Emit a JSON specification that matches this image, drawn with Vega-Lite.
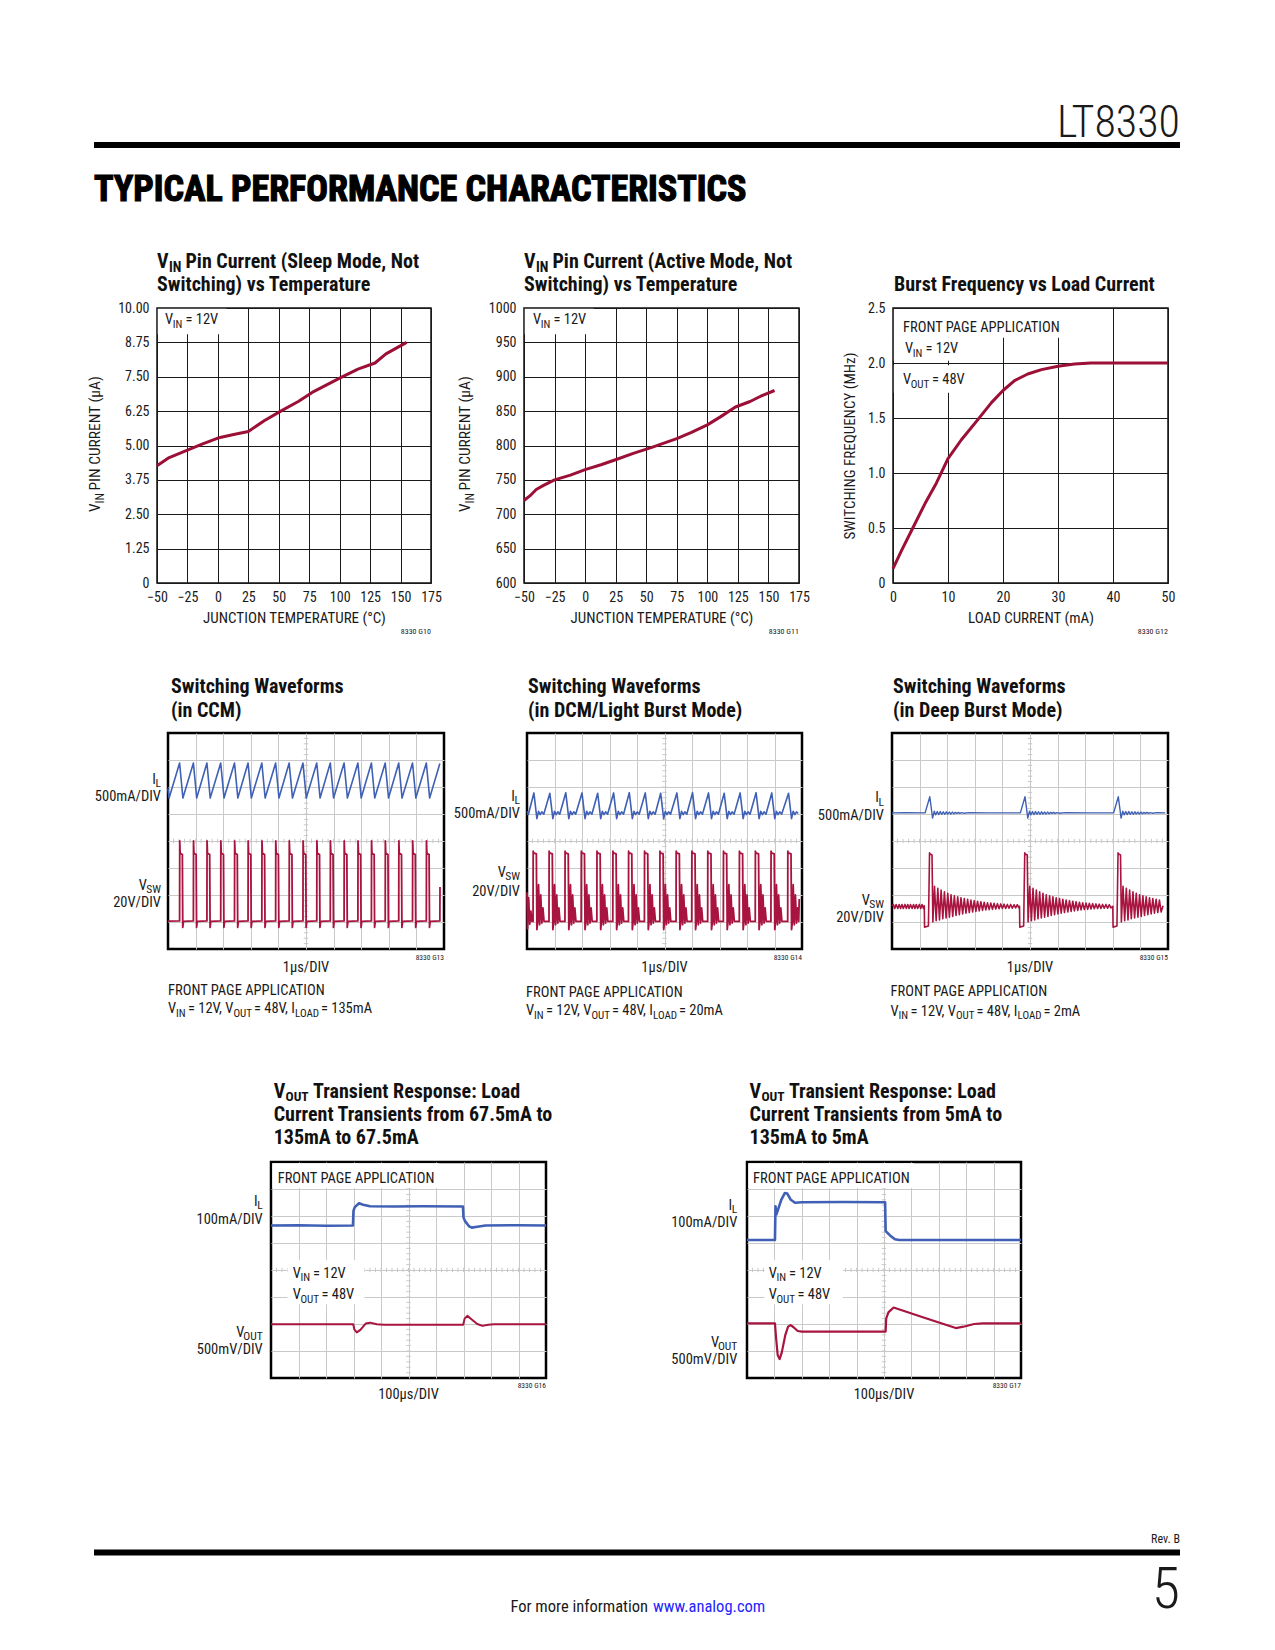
{
"$schema": "https://vega.github.io/schema/vega-lite/v6.json",
"background": "white",
"padding": 0,
"spacing": 0,
"datasets": {
"one": [{}],
"c1": [{"t":-50,"i":4.26},{"t":-40,"i":4.56},{"t":-25,"i":4.83},{"t":-13,"i":5.05},{"t":0,"i":5.27},{"t":12,"i":5.39},{"t":25,"i":5.51},{"t":38,"i":5.9},{"t":52,"i":6.26},{"t":66,"i":6.6},{"t":79,"i":6.97},{"t":100,"i":7.45},{"t":115,"i":7.78},{"t":129,"i":8.0},{"t":138,"i":8.33},{"t":155,"i":8.75}],
"c2": [{"t":-50,"i":720},{"t":-45,"i":727},{"t":-40,"i":736},{"t":-34,"i":742},{"t":-25,"i":750},{"t":-12,"i":757},{"t":0,"i":765},{"t":13,"i":772},{"t":26,"i":780},{"t":40,"i":789},{"t":54,"i":797},{"t":75,"i":810},{"t":87,"i":819},{"t":100,"i":830},{"t":111,"i":842},{"t":123,"i":856},{"t":135,"i":864},{"t":144,"i":872},{"t":155,"i":880}],
"c3": [{"l":0,"f":0.13},{"l":1.5,"f":0.29},{"l":3.6,"f":0.5},{"l":5.8,"f":0.72},{"l":7.9,"f":0.91},{"l":10,"f":1.13},{"l":12.4,"f":1.3},{"l":15.5,"f":1.49},{"l":17.9,"f":1.64},{"l":20,"f":1.75},{"l":22.1,"f":1.84},{"l":24.5,"f":1.9},{"l":27,"f":1.94},{"l":30,"f":1.97},{"l":33,"f":1.99},{"l":36,"f":2.0},{"l":50,"f":2.0}],
"tx": [{"v":0.2},{"v":0.4},{"v":0.6},{"v":0.8},{"v":1},{"v":1.2},{"v":1.4},{"v":1.6},{"v":1.8},{"v":2},{"v":2.2},{"v":2.4},{"v":2.6},{"v":2.8},{"v":3},{"v":3.2},{"v":3.4},{"v":3.6},{"v":3.8},{"v":4},{"v":4.2},{"v":4.4},{"v":4.6},{"v":4.8},{"v":5},{"v":5.2},{"v":5.4},{"v":5.6},{"v":5.8},{"v":6},{"v":6.2},{"v":6.4},{"v":6.6},{"v":6.8},{"v":7},{"v":7.2},{"v":7.4},{"v":7.6},{"v":7.8},{"v":8},{"v":8.2},{"v":8.4},{"v":8.6},{"v":8.8},{"v":9},{"v":9.2},{"v":9.4},{"v":9.6},{"v":9.8}],
"ty": [{"v":0.2},{"v":0.4},{"v":0.6},{"v":0.8},{"v":1},{"v":1.2},{"v":1.4},{"v":1.6},{"v":1.8},{"v":2},{"v":2.2},{"v":2.4},{"v":2.6},{"v":2.8},{"v":3},{"v":3.2},{"v":3.4},{"v":3.6},{"v":3.8},{"v":4},{"v":4.2},{"v":4.4},{"v":4.6},{"v":4.8},{"v":5},{"v":5.2},{"v":5.4},{"v":5.6},{"v":5.8},{"v":6},{"v":6.2},{"v":6.4},{"v":6.6},{"v":6.8},{"v":7},{"v":7.2},{"v":7.4},{"v":7.6},{"v":7.8}],
"w1i": [{"x":0,"y":5.95},{"x":0.04,"y":5.59},{"x":0.42,"y":6.89},{"x":0.54,"y":5.59},{"x":0.92,"y":6.89},{"x":1.04,"y":5.59},{"x":1.41,"y":6.89},{"x":1.53,"y":5.59},{"x":1.91,"y":6.89},{"x":2.03,"y":5.59},{"x":2.41,"y":6.89},{"x":2.53,"y":5.59},{"x":2.9,"y":6.89},{"x":3.02,"y":5.59},{"x":3.4,"y":6.89},{"x":3.52,"y":5.59},{"x":3.9,"y":6.89},{"x":4.02,"y":5.59},{"x":4.39,"y":6.89},{"x":4.51,"y":5.59},{"x":4.89,"y":6.89},{"x":5.01,"y":5.59},{"x":5.39,"y":6.89},{"x":5.51,"y":5.59},{"x":5.88,"y":6.89},{"x":6.0,"y":5.59},{"x":6.38,"y":6.89},{"x":6.5,"y":5.59},{"x":6.88,"y":6.89},{"x":7.0,"y":5.59},{"x":7.37,"y":6.89},{"x":7.49,"y":5.59},{"x":7.87,"y":6.89},{"x":7.99,"y":5.59},{"x":8.36,"y":6.89},{"x":8.48,"y":5.59},{"x":8.86,"y":6.89},{"x":8.98,"y":5.59},{"x":9.36,"y":6.89},{"x":9.48,"y":5.59},{"x":9.85,"y":6.87}],
"w1v": [{"x":0,"y":1.03},
{"x":0.42,"y":1.04},{"x":0.425,"y":4.0},{"x":0.44,"y":3.55},{"x":0.52,"y":3.5},{"x":0.535,"y":0.8},{"x":0.56,"y":1.02},
{"x":0.92,"y":1.04},{"x":0.925,"y":4.0},{"x":0.94,"y":3.55},{"x":1.02,"y":3.5},{"x":1.035,"y":0.8},{"x":1.06,"y":1.02},
{"x":1.41,"y":1.04},{"x":1.415,"y":4.0},{"x":1.43,"y":3.55},{"x":1.51,"y":3.5},{"x":1.525,"y":0.8},{"x":1.55,"y":1.02},
{"x":1.91,"y":1.04},{"x":1.915,"y":4.0},{"x":1.93,"y":3.55},{"x":2.01,"y":3.5},{"x":2.025,"y":0.8},{"x":2.05,"y":1.02},
{"x":2.41,"y":1.04},{"x":2.415,"y":4.0},{"x":2.43,"y":3.55},{"x":2.51,"y":3.5},{"x":2.525,"y":0.8},{"x":2.55,"y":1.02},
{"x":2.9,"y":1.04},{"x":2.905,"y":4.0},{"x":2.92,"y":3.55},{"x":3.0,"y":3.5},{"x":3.015,"y":0.8},{"x":3.04,"y":1.02},
{"x":3.4,"y":1.04},{"x":3.405,"y":4.0},{"x":3.42,"y":3.55},{"x":3.5,"y":3.5},{"x":3.515,"y":0.8},{"x":3.54,"y":1.02},
{"x":3.9,"y":1.04},{"x":3.905,"y":4.0},{"x":3.92,"y":3.55},{"x":4.0,"y":3.5},{"x":4.015,"y":0.8},{"x":4.04,"y":1.02},
{"x":4.39,"y":1.04},{"x":4.395,"y":4.0},{"x":4.41,"y":3.55},{"x":4.49,"y":3.5},{"x":4.505,"y":0.8},{"x":4.53,"y":1.02},
{"x":4.89,"y":1.04},{"x":4.895,"y":4.0},{"x":4.91,"y":3.55},{"x":4.99,"y":3.5},{"x":5.005,"y":0.8},{"x":5.03,"y":1.02},
{"x":5.39,"y":1.04},{"x":5.395,"y":4.0},{"x":5.41,"y":3.55},{"x":5.49,"y":3.5},{"x":5.505,"y":0.8},{"x":5.53,"y":1.02},
{"x":5.88,"y":1.04},{"x":5.885,"y":4.0},{"x":5.9,"y":3.55},{"x":5.98,"y":3.5},{"x":5.995,"y":0.8},{"x":6.02,"y":1.02},
{"x":6.38,"y":1.04},{"x":6.385,"y":4.0},{"x":6.4,"y":3.55},{"x":6.48,"y":3.5},{"x":6.495,"y":0.8},{"x":6.52,"y":1.02},
{"x":6.88,"y":1.04},{"x":6.885,"y":4.0},{"x":6.9,"y":3.55},{"x":6.98,"y":3.5},{"x":6.995,"y":0.8},{"x":7.02,"y":1.02},
{"x":7.37,"y":1.04},{"x":7.375,"y":4.0},{"x":7.39,"y":3.55},{"x":7.47,"y":3.5},{"x":7.485,"y":0.8},{"x":7.51,"y":1.02},
{"x":7.87,"y":1.04},{"x":7.875,"y":4.0},{"x":7.89,"y":3.55},{"x":7.97,"y":3.5},{"x":7.985,"y":0.8},{"x":8.01,"y":1.02},
{"x":8.36,"y":1.04},{"x":8.365,"y":4.0},{"x":8.38,"y":3.55},{"x":8.46,"y":3.5},{"x":8.475,"y":0.8},{"x":8.5,"y":1.02},
{"x":8.86,"y":1.04},{"x":8.865,"y":4.0},{"x":8.88,"y":3.55},{"x":8.96,"y":3.5},{"x":8.975,"y":0.8},{"x":9.0,"y":1.02},
{"x":9.36,"y":1.04},{"x":9.365,"y":4.0},{"x":9.38,"y":3.55},{"x":9.46,"y":3.5},{"x":9.475,"y":0.8},{"x":9.5,"y":1.02},
{"x":9.85,"y":1.04},{"x":9.855,"y":2.3}],
"w2i": [{"x":0,"y":5.1},{"x":0.05,"y":4.98},
{"x":0.25,"y":5.78},{"x":0.36,"y":4.83},{"x":0.42,"y":5.1},{"x":0.48,"y":4.98},{"x":0.54,"y":5.08},{"x":0.61,"y":4.99},
{"x":0.83,"y":5.77},{"x":0.94,"y":4.83},{"x":1.0,"y":5.1},{"x":1.06,"y":4.98},{"x":1.12,"y":5.08},{"x":1.19,"y":4.99},
{"x":1.41,"y":5.79},{"x":1.52,"y":4.83},{"x":1.58,"y":5.1},{"x":1.64,"y":4.98},{"x":1.7,"y":5.08},{"x":1.77,"y":4.99},
{"x":2.0,"y":5.78},{"x":2.11,"y":4.83},{"x":2.17,"y":5.1},{"x":2.23,"y":4.98},{"x":2.29,"y":5.08},{"x":2.36,"y":4.99},
{"x":2.57,"y":5.77},{"x":2.68,"y":4.83},{"x":2.74,"y":5.1},{"x":2.8,"y":4.98},{"x":2.86,"y":5.08},{"x":2.93,"y":4.99},
{"x":3.15,"y":5.78},{"x":3.26,"y":4.83},{"x":3.32,"y":5.1},{"x":3.38,"y":4.98},{"x":3.44,"y":5.08},{"x":3.51,"y":4.99},
{"x":3.72,"y":5.79},{"x":3.83,"y":4.83},{"x":3.89,"y":5.1},{"x":3.95,"y":4.98},{"x":4.01,"y":5.08},{"x":4.08,"y":4.99},
{"x":4.3,"y":5.78},{"x":4.41,"y":4.83},{"x":4.47,"y":5.1},{"x":4.53,"y":4.98},{"x":4.59,"y":5.08},{"x":4.66,"y":4.99},
{"x":4.86,"y":5.77},{"x":4.97,"y":4.83},{"x":5.03,"y":5.1},{"x":5.09,"y":4.98},{"x":5.15,"y":5.08},{"x":5.22,"y":4.99},
{"x":5.45,"y":5.78},{"x":5.56,"y":4.83},{"x":5.62,"y":5.1},{"x":5.68,"y":4.98},{"x":5.74,"y":5.08},{"x":5.81,"y":4.99},
{"x":6.02,"y":5.79},{"x":6.13,"y":4.83},{"x":6.19,"y":5.1},{"x":6.25,"y":4.98},{"x":6.31,"y":5.08},{"x":6.38,"y":4.99},
{"x":6.6,"y":5.78},{"x":6.71,"y":4.83},{"x":6.77,"y":5.1},{"x":6.83,"y":4.98},{"x":6.89,"y":5.08},{"x":6.96,"y":4.99},
{"x":7.17,"y":5.77},{"x":7.28,"y":4.83},{"x":7.34,"y":5.1},{"x":7.4,"y":4.98},{"x":7.46,"y":5.08},{"x":7.53,"y":4.99},
{"x":7.75,"y":5.78},{"x":7.86,"y":4.83},{"x":7.92,"y":5.1},{"x":7.98,"y":4.98},{"x":8.04,"y":5.08},{"x":8.11,"y":4.99},
{"x":8.33,"y":5.79},{"x":8.44,"y":4.83},{"x":8.5,"y":5.1},{"x":8.56,"y":4.98},{"x":8.62,"y":5.08},{"x":8.69,"y":4.99},
{"x":8.9,"y":5.78},{"x":9.01,"y":4.83},{"x":9.07,"y":5.1},{"x":9.13,"y":4.98},{"x":9.19,"y":5.08},{"x":9.26,"y":4.99},
{"x":9.51,"y":5.77},{"x":9.62,"y":4.83},{"x":9.68,"y":5.1},{"x":9.74,"y":4.98},{"x":9.8,"y":5.08},{"x":9.86,"y":5.02}],
"w2v": [{"x":0,"y":2.1},{"x":0.02,"y":0.75},{"x":0.06,"y":1.9},{"x":0.1,"y":0.92},{"x":0.14,"y":1.4},{"x":0.18,"y":1.02},
{"x":0.22,"y":1.02},{"x":0.225,"y":3.62},{"x":0.24,"y":3.56},{"x":0.34,"y":3.52},{"x":0.36,"y":0.72},{"x":0.39,"y":1.0},{"x":0.42,"y":2.38},{"x":0.46,"y":0.9},{"x":0.5,"y":2.0},{"x":0.54,"y":0.96},{"x":0.58,"y":1.52},{"x":0.62,"y":1.02},
{"x":0.8,"y":1.02},{"x":0.805,"y":3.62},{"x":0.82,"y":3.56},{"x":0.92,"y":3.52},{"x":0.94,"y":0.72},{"x":0.97,"y":1.0},{"x":1.0,"y":2.38},{"x":1.04,"y":0.9},{"x":1.08,"y":2.0},{"x":1.12,"y":0.96},{"x":1.16,"y":1.52},{"x":1.2,"y":1.02},
{"x":1.38,"y":1.02},{"x":1.385,"y":3.62},{"x":1.4,"y":3.56},{"x":1.5,"y":3.52},{"x":1.52,"y":0.72},{"x":1.55,"y":1.0},{"x":1.58,"y":2.38},{"x":1.62,"y":0.9},{"x":1.66,"y":2.0},{"x":1.7,"y":0.96},{"x":1.74,"y":1.52},{"x":1.78,"y":1.02},
{"x":1.97,"y":1.02},{"x":1.975,"y":3.62},{"x":1.99,"y":3.56},{"x":2.09,"y":3.52},{"x":2.11,"y":0.72},{"x":2.14,"y":1.0},{"x":2.17,"y":2.38},{"x":2.21,"y":0.9},{"x":2.25,"y":2.0},{"x":2.29,"y":0.96},{"x":2.33,"y":1.52},{"x":2.37,"y":1.02},
{"x":2.54,"y":1.02},{"x":2.545,"y":3.62},{"x":2.56,"y":3.56},{"x":2.66,"y":3.52},{"x":2.68,"y":0.72},{"x":2.71,"y":1.0},{"x":2.74,"y":2.38},{"x":2.78,"y":0.9},{"x":2.82,"y":2.0},{"x":2.86,"y":0.96},{"x":2.9,"y":1.52},{"x":2.94,"y":1.02},
{"x":3.12,"y":1.02},{"x":3.125,"y":3.62},{"x":3.14,"y":3.56},{"x":3.24,"y":3.52},{"x":3.26,"y":0.72},{"x":3.29,"y":1.0},{"x":3.32,"y":2.38},{"x":3.36,"y":0.9},{"x":3.4,"y":2.0},{"x":3.44,"y":0.96},{"x":3.48,"y":1.52},{"x":3.52,"y":1.02},
{"x":3.69,"y":1.02},{"x":3.695,"y":3.62},{"x":3.71,"y":3.56},{"x":3.81,"y":3.52},{"x":3.83,"y":0.72},{"x":3.86,"y":1.0},{"x":3.89,"y":2.38},{"x":3.93,"y":0.9},{"x":3.97,"y":2.0},{"x":4.01,"y":0.96},{"x":4.05,"y":1.52},{"x":4.09,"y":1.02},
{"x":4.27,"y":1.02},{"x":4.275,"y":3.62},{"x":4.29,"y":3.56},{"x":4.39,"y":3.52},{"x":4.41,"y":0.72},{"x":4.44,"y":1.0},{"x":4.47,"y":2.38},{"x":4.51,"y":0.9},{"x":4.55,"y":2.0},{"x":4.59,"y":0.96},{"x":4.63,"y":1.52},{"x":4.67,"y":1.02},
{"x":4.83,"y":1.02},{"x":4.835,"y":3.62},{"x":4.85,"y":3.56},{"x":4.95,"y":3.52},{"x":4.97,"y":0.72},{"x":5.0,"y":1.0},{"x":5.03,"y":2.38},{"x":5.07,"y":0.9},{"x":5.11,"y":2.0},{"x":5.15,"y":0.96},{"x":5.19,"y":1.52},{"x":5.23,"y":1.02},
{"x":5.42,"y":1.02},{"x":5.425,"y":3.62},{"x":5.44,"y":3.56},{"x":5.54,"y":3.52},{"x":5.56,"y":0.72},{"x":5.59,"y":1.0},{"x":5.62,"y":2.38},{"x":5.66,"y":0.9},{"x":5.7,"y":2.0},{"x":5.74,"y":0.96},{"x":5.78,"y":1.52},{"x":5.82,"y":1.02},
{"x":5.99,"y":1.02},{"x":5.995,"y":3.62},{"x":6.01,"y":3.56},{"x":6.11,"y":3.52},{"x":6.13,"y":0.72},{"x":6.16,"y":1.0},{"x":6.19,"y":2.38},{"x":6.23,"y":0.9},{"x":6.27,"y":2.0},{"x":6.31,"y":0.96},{"x":6.35,"y":1.52},{"x":6.39,"y":1.02},
{"x":6.57,"y":1.02},{"x":6.575,"y":3.62},{"x":6.59,"y":3.56},{"x":6.69,"y":3.52},{"x":6.71,"y":0.72},{"x":6.74,"y":1.0},{"x":6.77,"y":2.38},{"x":6.81,"y":0.9},{"x":6.85,"y":2.0},{"x":6.89,"y":0.96},{"x":6.93,"y":1.52},{"x":6.97,"y":1.02},
{"x":7.14,"y":1.02},{"x":7.145,"y":3.62},{"x":7.16,"y":3.56},{"x":7.26,"y":3.52},{"x":7.28,"y":0.72},{"x":7.31,"y":1.0},{"x":7.34,"y":2.38},{"x":7.38,"y":0.9},{"x":7.42,"y":2.0},{"x":7.46,"y":0.96},{"x":7.5,"y":1.52},{"x":7.54,"y":1.02},
{"x":7.72,"y":1.02},{"x":7.725,"y":3.62},{"x":7.74,"y":3.56},{"x":7.84,"y":3.52},{"x":7.86,"y":0.72},{"x":7.89,"y":1.0},{"x":7.92,"y":2.38},{"x":7.96,"y":0.9},{"x":8.0,"y":2.0},{"x":8.04,"y":0.96},{"x":8.08,"y":1.52},{"x":8.12,"y":1.02},
{"x":8.3,"y":1.02},{"x":8.305,"y":3.62},{"x":8.32,"y":3.56},{"x":8.42,"y":3.52},{"x":8.44,"y":0.72},{"x":8.47,"y":1.0},{"x":8.5,"y":2.38},{"x":8.54,"y":0.9},{"x":8.58,"y":2.0},{"x":8.62,"y":0.96},{"x":8.66,"y":1.52},{"x":8.7,"y":1.02},
{"x":8.87,"y":1.02},{"x":8.875,"y":3.62},{"x":8.89,"y":3.56},{"x":8.99,"y":3.52},{"x":9.01,"y":0.72},{"x":9.04,"y":1.0},{"x":9.07,"y":2.38},{"x":9.11,"y":0.9},{"x":9.15,"y":2.0},{"x":9.19,"y":0.96},{"x":9.23,"y":1.52},{"x":9.27,"y":1.02},
{"x":9.48,"y":1.02},{"x":9.485,"y":3.62},{"x":9.5,"y":3.56},{"x":9.6,"y":3.52},{"x":9.62,"y":0.72},{"x":9.65,"y":1.0},{"x":9.68,"y":2.38},{"x":9.72,"y":0.9},{"x":9.76,"y":2.0},{"x":9.8,"y":0.96},{"x":9.84,"y":1.52},{"x":9.88,"y":1.02},
{"x":9.9,"y":1.85}],
"w3i": [{"x":0,"y":5.04},{"x":0.5,"y":5.05},{"x":1.2,"y":5.04},
{"x":1.37,"y":5.64},{"x":1.47,"y":4.85},{"x":1.53,"y":5.1},{"x":1.58,"y":4.97},{"x":1.64,"y":5.09},{"x":1.69,"y":4.98},{"x":1.75,"y":5.09},{"x":1.8,"y":4.99},{"x":1.86,"y":5.08},{"x":1.91,"y":4.99},{"x":1.97,"y":5.08},{"x":2.02,"y":5.0},{"x":2.08,"y":5.07},{"x":2.13,"y":5.0},{"x":2.19,"y":5.07},{"x":2.24,"y":5.01},{"x":2.3,"y":5.06},{"x":2.35,"y":5.02},{"x":2.41,"y":5.06},{"x":2.46,"y":5.02},{"x":2.52,"y":5.05},{"x":2.6,"y":5.03},{"x":2.8,"y":5.05},{"x":3.5,"y":5.04},{"x":4.65,"y":5.04},
{"x":4.82,"y":5.64},{"x":4.92,"y":4.85},{"x":4.98,"y":5.1},{"x":5.03,"y":4.97},{"x":5.09,"y":5.09},{"x":5.14,"y":4.98},{"x":5.2,"y":5.09},{"x":5.25,"y":4.99},{"x":5.31,"y":5.08},{"x":5.36,"y":4.99},{"x":5.42,"y":5.08},{"x":5.47,"y":5.0},{"x":5.53,"y":5.07},{"x":5.58,"y":5.0},{"x":5.64,"y":5.07},{"x":5.69,"y":5.01},{"x":5.75,"y":5.06},{"x":5.8,"y":5.02},{"x":5.86,"y":5.06},{"x":5.91,"y":5.02},{"x":5.97,"y":5.05},{"x":6.05,"y":5.03},{"x":6.3,"y":5.05},{"x":7.2,"y":5.04},{"x":8.03,"y":5.04},
{"x":8.2,"y":5.64},{"x":8.3,"y":4.85},{"x":8.36,"y":5.1},{"x":8.41,"y":4.97},{"x":8.47,"y":5.09},{"x":8.52,"y":4.98},{"x":8.58,"y":5.09},{"x":8.63,"y":4.99},{"x":8.69,"y":5.08},{"x":8.74,"y":4.99},{"x":8.8,"y":5.08},{"x":8.85,"y":5.0},{"x":8.91,"y":5.07},{"x":8.96,"y":5.0},{"x":9.02,"y":5.07},{"x":9.07,"y":5.01},{"x":9.13,"y":5.06},{"x":9.18,"y":5.02},{"x":9.24,"y":5.06},{"x":9.29,"y":5.02},{"x":9.35,"y":5.05},{"x":9.43,"y":5.03},{"x":9.6,"y":5.05},{"x":9.9,"y":5.04}],
"w3v": [{"x":0,"y":1.6},{"x":0.05,"y":1.65},{"x":0.1,"y":1.5},{"x":0.15,"y":1.65},{"x":0.21,"y":1.5},{"x":0.26,"y":1.65},{"x":0.31,"y":1.5},{"x":0.36,"y":1.65},{"x":0.41,"y":1.5},{"x":0.47,"y":1.65},{"x":0.52,"y":1.5},{"x":0.57,"y":1.65},{"x":0.62,"y":1.5},{"x":0.67,"y":1.65},{"x":0.73,"y":1.5},{"x":0.78,"y":1.65},{"x":0.83,"y":1.5},{"x":0.88,"y":1.65},{"x":0.93,"y":1.5},{"x":0.99,"y":1.65},{"x":1.04,"y":1.5},{"x":1.09,"y":1.65},{"x":1.14,"y":1.5},{"x":1.17,"y":1.6},
{"x":1.18,"y":0.81},{"x":1.32,"y":0.85},{"x":1.36,"y":3.56},{"x":1.38,"y":3.52},{"x":1.45,"y":3.48},{"x":1.48,"y":1.0},
{"x":1.54,"y":2.32},{"x":1.6,"y":1.05},{"x":1.66,"y":2.25},{"x":1.72,"y":1.08},{"x":1.78,"y":2.18},{"x":1.84,"y":1.12},{"x":1.9,"y":2.12},{"x":1.96,"y":1.15},{"x":2.02,"y":2.06},{"x":2.08,"y":1.18},{"x":2.14,"y":2.01},{"x":2.2,"y":1.21},{"x":2.26,"y":1.97},{"x":2.32,"y":1.24},{"x":2.38,"y":1.93},{"x":2.44,"y":1.27},{"x":2.5,"y":1.9},{"x":2.56,"y":1.3},{"x":2.62,"y":1.87},{"x":2.68,"y":1.33},{"x":2.74,"y":1.84},{"x":2.8,"y":1.35},{"x":2.86,"y":1.81},{"x":2.92,"y":1.37},{"x":2.98,"y":1.79},{"x":3.04,"y":1.39},{"x":3.1,"y":1.77},{"x":3.16,"y":1.41},{"x":3.22,"y":1.75},{"x":3.28,"y":1.43},{"x":3.34,"y":1.73},{"x":3.4,"y":1.45},{"x":3.46,"y":1.71},{"x":3.52,"y":1.46},{"x":3.58,"y":1.7},{"x":3.64,"y":1.47},{"x":3.7,"y":1.69},{"x":3.76,"y":1.48},{"x":3.82,"y":1.68},{"x":3.88,"y":1.49},{"x":3.94,"y":1.67},{"x":4.0,"y":1.5},{"x":4.06,"y":1.66},{"x":4.12,"y":1.5},{"x":4.18,"y":1.65},{"x":4.24,"y":1.51},{"x":4.3,"y":1.65},{"x":4.36,"y":1.51},{"x":4.42,"y":1.64},{"x":4.48,"y":1.52},{"x":4.54,"y":1.64},{"x":4.6,"y":1.52},{"x":4.62,"y":1.58},
{"x":4.63,"y":0.81},{"x":4.77,"y":0.85},{"x":4.81,"y":3.56},{"x":4.83,"y":3.52},{"x":4.9,"y":3.48},{"x":4.93,"y":1.0},
{"x":4.99,"y":2.32},{"x":5.05,"y":1.05},{"x":5.11,"y":2.25},{"x":5.17,"y":1.08},{"x":5.23,"y":2.18},{"x":5.29,"y":1.12},{"x":5.35,"y":2.12},{"x":5.41,"y":1.15},{"x":5.47,"y":2.06},{"x":5.53,"y":1.18},{"x":5.59,"y":2.01},{"x":5.65,"y":1.21},{"x":5.71,"y":1.97},{"x":5.77,"y":1.24},{"x":5.83,"y":1.93},{"x":5.89,"y":1.27},{"x":5.95,"y":1.9},{"x":6.01,"y":1.3},{"x":6.07,"y":1.87},{"x":6.13,"y":1.33},{"x":6.19,"y":1.84},{"x":6.25,"y":1.35},{"x":6.31,"y":1.81},{"x":6.37,"y":1.37},{"x":6.43,"y":1.79},{"x":6.49,"y":1.39},{"x":6.55,"y":1.77},{"x":6.61,"y":1.41},{"x":6.67,"y":1.75},{"x":6.73,"y":1.43},{"x":6.79,"y":1.73},{"x":6.85,"y":1.45},{"x":6.91,"y":1.71},{"x":6.97,"y":1.46},{"x":7.03,"y":1.7},{"x":7.09,"y":1.47},{"x":7.15,"y":1.69},{"x":7.21,"y":1.48},{"x":7.27,"y":1.68},{"x":7.33,"y":1.49},{"x":7.39,"y":1.67},{"x":7.45,"y":1.5},{"x":7.51,"y":1.66},{"x":7.57,"y":1.5},{"x":7.63,"y":1.65},{"x":7.69,"y":1.51},{"x":7.75,"y":1.65},{"x":7.81,"y":1.51},{"x":7.87,"y":1.64},{"x":7.93,"y":1.52},{"x":8.0,"y":1.58},
{"x":8.01,"y":0.81},{"x":8.15,"y":0.85},{"x":8.19,"y":3.56},{"x":8.21,"y":3.52},{"x":8.28,"y":3.48},{"x":8.31,"y":1.0},
{"x":8.37,"y":2.32},{"x":8.43,"y":1.05},{"x":8.49,"y":2.25},{"x":8.55,"y":1.08},{"x":8.61,"y":2.18},{"x":8.67,"y":1.12},{"x":8.73,"y":2.12},{"x":8.79,"y":1.15},{"x":8.85,"y":2.06},{"x":8.91,"y":1.18},{"x":8.97,"y":2.01},{"x":9.03,"y":1.21},{"x":9.09,"y":1.97},{"x":9.15,"y":1.24},{"x":9.21,"y":1.93},{"x":9.27,"y":1.27},{"x":9.33,"y":1.9},{"x":9.39,"y":1.3},{"x":9.45,"y":1.87},{"x":9.51,"y":1.33},{"x":9.57,"y":1.84},{"x":9.63,"y":1.35},{"x":9.69,"y":1.81},{"x":9.75,"y":1.37},{"x":9.82,"y":1.6}],
"t1i": [{"x":0,"y":5.65},{"x":1.0,"y":5.66},{"x":2.0,"y":5.64},{"x":2.98,"y":5.65},{"x":3.0,"y":6.2},{"x":3.05,"y":6.33},{"x":3.2,"y":6.47},{"x":3.35,"y":6.42},{"x":3.6,"y":6.36},{"x":4.5,"y":6.35},{"x":5.5,"y":6.36},{"x":6.98,"y":6.35},{"x":7.0,"y":5.95},{"x":7.05,"y":5.82},{"x":7.2,"y":5.62},{"x":7.3,"y":5.57},{"x":7.5,"y":5.6},{"x":7.8,"y":5.65},{"x":9.0,"y":5.66},{"x":10,"y":5.65}],
"t1v": [{"x":0,"y":1.99},{"x":2.99,"y":1.99},{"x":3.03,"y":1.8},{"x":3.12,"y":1.69},{"x":3.25,"y":1.78},{"x":3.45,"y":2.02},{"x":3.6,"y":2.05},{"x":3.85,"y":1.99},{"x":4.1,"y":1.97},{"x":6.99,"y":1.97},{"x":7.04,"y":2.2},{"x":7.14,"y":2.3},{"x":7.3,"y":2.17},{"x":7.5,"y":2.0},{"x":7.69,"y":1.93},{"x":7.9,"y":1.97},{"x":8.11,"y":1.99},{"x":10,"y":1.99}],
"t2i": [{"x":0,"y":5.11},{"x":1.02,"y":5.11},{"x":1.04,"y":6.36},{"x":1.07,"y":6.05},{"x":1.12,"y":6.2},{"x":1.25,"y":6.6},{"x":1.38,"y":6.85},{"x":1.47,"y":6.83},{"x":1.6,"y":6.6},{"x":1.75,"y":6.49},{"x":2.0,"y":6.51},{"x":3.5,"y":6.52},{"x":5.04,"y":6.51},{"x":5.06,"y":5.45},{"x":5.12,"y":5.38},{"x":5.22,"y":5.28},{"x":5.4,"y":5.14},{"x":5.55,"y":5.11},{"x":10,"y":5.11}],
"t2v": [{"x":0,"y":2.02},{"x":1.02,"y":2.02},{"x":1.06,"y":1.5},{"x":1.12,"y":0.85},{"x":1.19,"y":0.7},{"x":1.27,"y":0.95},{"x":1.4,"y":1.6},{"x":1.5,"y":1.9},{"x":1.59,"y":1.96},{"x":1.7,"y":1.88},{"x":1.85,"y":1.74},{"x":2.0,"y":1.72},{"x":5.06,"y":1.72},{"x":5.08,"y":2.2},{"x":5.16,"y":2.43},{"x":5.35,"y":2.61},{"x":6.5,"y":2.22},{"x":7.62,"y":1.85},{"x":7.9,"y":1.9},{"x":8.29,"y":2.0},{"x":8.6,"y":2.02},{"x":10,"y":2.02}]
},
"vconcat": [
{"width":1275,"height":220,"data":{"name":"one"},"layer":[
 {"mark":{"type":"rect","opacity":0},"encoding":{"x":{"value":0},"x2":{"value":1275},"y":{"value":0},"y2":{"value":220}}},
 {"mark":{"type":"text","align":"right","fontSize":44,"fontWeight":300},"encoding":{"x":{"value":1180},"y":{"value":137},"text":{"value":"LT8330"}}},
 {"mark":{"type":"rule","strokeWidth":6,"color":"#000"},"encoding":{"x":{"value":94},"x2":{"value":1180},"y":{"value":145}}},
 {"mark":{"type":"text","fontSize":36,"fontWeight":"bold","color":"#000","stroke":"#000","strokeWidth":1.2},"encoding":{"x":{"value":94},"y":{"value":201},"text":{"value":"TYPICAL PERFORMANCE CHARACTERISTICS"}}}
]},
{"spacing":0,"hconcat":[
 {"width":1,"height":1,"data":{"name":"one"},"mark":{"type":"rect","opacity":0},"encoding":{"x":{"value":0},"x2":{"value":1},"y":{"value":0},"y2":{"value":1}}},
 {"width":274,"height":275,"view":{"stroke":"#111","strokeWidth":1.5},"data":{"name":"one"},"layer":[
  {"mark":{"type":"rect","opacity":0},"encoding":{"x":{"value":-155},"x2":{"value":294},"y":{"value":-87},"y2":{"value":333}}},
  {"data":{"name":"c1"},"mark":{"type":"line","color":"#9c1037","strokeWidth":3},"encoding":{"x":{"field":"t","type":"quantitative","scale":{"domain":[-50,175],"nice":false,"zero":false},"axis":{"values":[-50,-25,0,25,50,75,100,125,150,175],"tickCount":50,"title":"JUNCTION TEMPERATURE (°C)","labelPadding":7.5,"titlePadding":6,"grid":true}},"y":{"field":"i","type":"quantitative","scale":{"domain":[0,10],"nice":false,"zero":false},"axis":{"values":[0,1.25,2.5,3.75,5,6.25,7.5,8.75,10],"tickCount":50,"labelExpr":"datum.value == 0 ? '0' : format(datum.value, '.2f')","title":null,"labelPadding":8,"grid":true}}}},
  {"mark":{"type":"rect","color":"white"},"encoding":{"x":{"datum":-49.4},"x2":{"datum":7},"y":{"datum":9.05},"y2":{"datum":9.97}}},
  {"mark":{"type":"text","dy":-40,"fontSize":20,"fontWeight":"bold","color":"#111"},"encoding":{"x":{"datum":-50},"y":{"datum":10},"text":{"value":"V"}}},
  {"mark":{"type":"text","dx":12,"dy":-36.5,"fontSize":14,"fontWeight":"bold","color":"#111"},"encoding":{"x":{"datum":-50},"y":{"datum":10},"text":{"value":"IN"}}},
  {"mark":{"type":"text","dx":28.5,"dy":-40,"fontSize":20,"fontWeight":"bold","color":"#111"},"encoding":{"x":{"datum":-50},"y":{"datum":10},"text":{"value":"Pin Current (Sleep Mode, Not"}}},
  {"mark":{"type":"text","dy":-17,"fontSize":20,"fontWeight":"bold","color":"#111"},"encoding":{"x":{"datum":-50},"y":{"datum":10},"text":{"value":"Switching) vs Temperature"}}},
  {"mark":{"type":"text","dx":8,"dy":16},"encoding":{"x":{"datum":-50},"y":{"datum":10},"text":{"value":"V"}}},
  {"mark":{"type":"text","dx":15.7,"dy":19.5,"fontSize":11},"encoding":{"x":{"datum":-50},"y":{"datum":10},"text":{"value":"IN"}}},
  {"mark":{"type":"text","dx":28.5,"dy":16},"encoding":{"x":{"datum":-50},"y":{"datum":10},"text":{"value":"= 12V"}}},
  {"mark":{"type":"text","angle":270,"dx":71,"dy":-57,"fontSize":15.5},"encoding":{"x":{"datum":-50},"y":{"datum":0},"text":{"value":"V"}}},
  {"mark":{"type":"text","angle":270,"dx":79.5,"dy":-53.5,"fontSize":12},"encoding":{"x":{"datum":-50},"y":{"datum":0},"text":{"value":"IN"}}},
  {"mark":{"type":"text","angle":270,"dx":92.5,"dy":-57,"fontSize":15.5},"encoding":{"x":{"datum":-50},"y":{"datum":0},"text":{"value":"PIN CURRENT (µA)"}}},
  {"mark":{"type":"text","align":"right","dy":51,"fontSize":8},"encoding":{"x":{"datum":175},"y":{"datum":0},"text":{"value":"8330 G10"}}}
 ]},
 {"width":275,"height":275,"view":{"stroke":"#111","strokeWidth":1.5},"data":{"name":"one"},"layer":[
  {"mark":{"type":"rect","opacity":0},"encoding":{"x":{"value":-71},"x2":{"value":303},"y":{"value":-87},"y2":{"value":333}}},
  {"data":{"name":"c2"},"mark":{"type":"line","color":"#9c1037","strokeWidth":3},"encoding":{"x":{"field":"t","type":"quantitative","scale":{"domain":[-50,175],"nice":false,"zero":false},"axis":{"values":[-50,-25,0,25,50,75,100,125,150,175],"tickCount":50,"title":"JUNCTION TEMPERATURE (°C)","labelPadding":7.5,"titlePadding":6,"grid":true}},"y":{"field":"i","type":"quantitative","scale":{"domain":[600,1000],"nice":false,"zero":false},"axis":{"values":[600,650,700,750,800,850,900,950,1000],"tickCount":50,"format":"d","title":null,"labelPadding":8,"grid":true}}}},
  {"mark":{"type":"rect","color":"white"},"encoding":{"x":{"datum":-49.4},"x2":{"datum":7},"y":{"datum":962},"y2":{"datum":998.8}}},
  {"mark":{"type":"text","dy":-40,"fontSize":20,"fontWeight":"bold","color":"#111"},"encoding":{"x":{"datum":-50},"y":{"datum":1000},"text":{"value":"V"}}},
  {"mark":{"type":"text","dx":12,"dy":-36.5,"fontSize":14,"fontWeight":"bold","color":"#111"},"encoding":{"x":{"datum":-50},"y":{"datum":1000},"text":{"value":"IN"}}},
  {"mark":{"type":"text","dx":28.5,"dy":-40,"fontSize":20,"fontWeight":"bold","color":"#111"},"encoding":{"x":{"datum":-50},"y":{"datum":1000},"text":{"value":"Pin Current (Active Mode, Not"}}},
  {"mark":{"type":"text","dy":-17,"fontSize":20,"fontWeight":"bold","color":"#111"},"encoding":{"x":{"datum":-50},"y":{"datum":1000},"text":{"value":"Switching) vs Temperature"}}},
  {"mark":{"type":"text","dx":9,"dy":16},"encoding":{"x":{"datum":-50},"y":{"datum":1000},"text":{"value":"V"}}},
  {"mark":{"type":"text","dx":16.7,"dy":19.5,"fontSize":11},"encoding":{"x":{"datum":-50},"y":{"datum":1000},"text":{"value":"IN"}}},
  {"mark":{"type":"text","dx":29.5,"dy":16},"encoding":{"x":{"datum":-50},"y":{"datum":1000},"text":{"value":"= 12V"}}},
  {"mark":{"type":"text","angle":270,"dx":71,"dy":-54,"fontSize":15.5},"encoding":{"x":{"datum":-50},"y":{"datum":600},"text":{"value":"V"}}},
  {"mark":{"type":"text","angle":270,"dx":79.5,"dy":-50.5,"fontSize":12},"encoding":{"x":{"datum":-50},"y":{"datum":600},"text":{"value":"IN"}}},
  {"mark":{"type":"text","angle":270,"dx":92.5,"dy":-54,"fontSize":15.5},"encoding":{"x":{"datum":-50},"y":{"datum":600},"text":{"value":"PIN CURRENT (µA)"}}},
  {"mark":{"type":"text","align":"right","dy":51,"fontSize":8},"encoding":{"x":{"datum":175},"y":{"datum":600},"text":{"value":"8330 G11"}}}
 ]},
 {"width":275,"height":275,"view":{"stroke":"#111","strokeWidth":1.5},"data":{"name":"one"},"layer":[
  {"mark":{"type":"rect","opacity":0},"encoding":{"x":{"value":-64},"x2":{"value":383},"y":{"value":-87},"y2":{"value":333}}},
  {"data":{"name":"c3"},"mark":{"type":"line","color":"#9c1037","strokeWidth":3},"encoding":{"x":{"field":"l","type":"quantitative","scale":{"domain":[0,50],"nice":false,"zero":false},"axis":{"values":[0,10,20,30,40,50],"tickCount":50,"title":"LOAD CURRENT (mA)","labelPadding":7.5,"titlePadding":6,"grid":true}},"y":{"field":"f","type":"quantitative","scale":{"domain":[0,2.5],"nice":false,"zero":false},"axis":{"values":[0,0.5,1,1.5,2,2.5],"tickCount":50,"labelExpr":"datum.value == 0 ? '0' : format(datum.value, '.1f')","title":"SWITCHING FREQUENCY (MHz)","titleX":-39,"titleY":137.5,"titleAngle":270,"titleAlign":"center","titleBaseline":"alphabetic","labelPadding":8,"grid":true}}}},
  {"mark":{"type":"rect","color":"white"},"encoding":{"x":{"datum":0.15},"x2":{"datum":31},"y":{"datum":2.23},"y2":{"datum":2.49}}},
  {"mark":{"type":"rect","color":"white"},"encoding":{"x":{"datum":0.15},"x2":{"datum":14},"y":{"datum":2.02},"y2":{"datum":2.23}}},
  {"mark":{"type":"rect","color":"white"},"encoding":{"x":{"datum":0.15},"x2":{"datum":14},"y":{"datum":1.73},"y2":{"datum":1.98}}},
  {"mark":{"type":"text","dx":1,"dy":-17,"fontSize":20,"fontWeight":"bold","color":"#111"},"encoding":{"x":{"datum":0},"y":{"datum":2.5},"text":{"value":"Burst Frequency vs Load Current"}}},
  {"mark":{"type":"text","dx":10,"dy":24},"encoding":{"x":{"datum":0},"y":{"datum":2.5},"text":{"value":"FRONT PAGE APPLICATION"}}},
  {"mark":{"type":"text","dx":12,"dy":45},"encoding":{"x":{"datum":0},"y":{"datum":2.5},"text":{"value":"V"}}},
  {"mark":{"type":"text","dx":19.7,"dy":48.5,"fontSize":11},"encoding":{"x":{"datum":0},"y":{"datum":2.5},"text":{"value":"IN"}}},
  {"mark":{"type":"text","dx":32.5,"dy":45},"encoding":{"x":{"datum":0},"y":{"datum":2.5},"text":{"value":"= 12V"}}},
  {"mark":{"type":"text","dx":10,"dy":76},"encoding":{"x":{"datum":0},"y":{"datum":2.5},"text":{"value":"V"}}},
  {"mark":{"type":"text","dx":17.7,"dy":79.5,"fontSize":11},"encoding":{"x":{"datum":0},"y":{"datum":2.5},"text":{"value":"OUT"}}},
  {"mark":{"type":"text","dx":39,"dy":76},"encoding":{"x":{"datum":0},"y":{"datum":2.5},"text":{"value":"= 48V"}}},
  {"mark":{"type":"text","align":"right","dy":51,"fontSize":8},"encoding":{"x":{"datum":50},"y":{"datum":0},"text":{"value":"8330 G12"}}}
 ]}
]},
{"spacing":0,"hconcat":[
 {"width":1,"height":1,"data":{"name":"one"},"mark":{"type":"rect","opacity":0},"encoding":{"x":{"value":0},"x2":{"value":1},"y":{"value":0},"y2":{"value":1}}},
 {"width":276,"height":216,"view":{"stroke":"#000","strokeWidth":2.5},"data":{"name":"one"},"layer":[
  {"mark":{"type":"rect","opacity":0},"encoding":{"x":{"value":-165},"x2":{"value":280},"y":{"value":-89},"y2":{"value":297}}},
  {"data":{"name":"tx"},"mark":{"type":"rule","color":"#c9c9c9","strokeWidth":1},"encoding":{"x":{"field":"v","type":"quantitative"},"y":{"datum":3.92},"y2":{"datum":4.08}}},
  {"data":{"name":"ty"},"mark":{"type":"rule","color":"#c9c9c9","strokeWidth":1},"encoding":{"y":{"field":"v","type":"quantitative"},"x":{"datum":4.92},"x2":{"datum":5.08}}},
  {"data":{"name":"w1i"},"mark":{"type":"line","color":"#3f60b5","strokeWidth":1.6},"encoding":{"x":{"field":"x","type":"quantitative","scale":{"domain":[0,10],"nice":false,"zero":false},"axis":{"values":[1,2,3,4,5,6,7,8,9],"tickCount":50,"labels":false,"title":null,"grid":true,"gridColor":"#c9c9c9"}},"y":{"field":"y","type":"quantitative","scale":{"domain":[0,8],"nice":false,"zero":false},"axis":{"values":[1,2,3,4,5,6,7],"tickCount":50,"labels":false,"title":null,"grid":true,"gridColor":"#c9c9c9"}}}},
  {"data":{"name":"w1v"},"mark":{"type":"line","color":"#a8143f","strokeWidth":1.8},"encoding":{"x":{"field":"x","type":"quantitative"},"y":{"field":"y","type":"quantitative"}}},
  {"mark":{"type":"text","dx":3,"dy":-40,"fontSize":20,"fontWeight":"bold","color":"#111"},"encoding":{"x":{"datum":0},"y":{"datum":8},"text":{"value":"Switching Waveforms"}}},
  {"mark":{"type":"text","dx":3,"dy":-16,"fontSize":20,"fontWeight":"bold","color":"#111"},"encoding":{"x":{"datum":0},"y":{"datum":8},"text":{"value":"(in CCM)"}}},
  {"mark":{"type":"text","align":"right","dx":-12.2,"dy":51,"fontSize":14.5},"encoding":{"x":{"datum":0},"y":{"datum":8},"text":{"value":"I"}}},
  {"mark":{"type":"text","align":"right","dx":-7,"dy":54,"fontSize":11.5},"encoding":{"x":{"datum":0},"y":{"datum":8},"text":{"value":"L"}}},
  {"mark":{"type":"text","align":"right","dx":-7,"dy":68,"fontSize":14.5},"encoding":{"x":{"datum":0},"y":{"datum":8},"text":{"value":"500mA/DIV"}}},
  {"mark":{"type":"text","align":"right","dx":-21.2,"dy":156.5,"fontSize":14.5},"encoding":{"x":{"datum":0},"y":{"datum":8},"text":{"value":"V"}}},
  {"mark":{"type":"text","align":"right","dx":-7,"dy":160,"fontSize":11.5},"encoding":{"x":{"datum":0},"y":{"datum":8},"text":{"value":"SW"}}},
  {"mark":{"type":"text","align":"right","dx":-7,"dy":174,"fontSize":14.5},"encoding":{"x":{"datum":0},"y":{"datum":8},"text":{"value":"20V/DIV"}}},
  {"mark":{"type":"text","align":"center","dy":23,"fontSize":14.5},"encoding":{"x":{"datum":5},"y":{"datum":0},"text":{"value":"1µs/DIV"}}},
  {"mark":{"type":"text","align":"right","dy":11,"fontSize":7.5},"encoding":{"x":{"datum":10},"y":{"datum":0},"text":{"value":"8330 G13"}}},
  {"mark":{"type":"text","dy":46},"encoding":{"x":{"datum":0},"y":{"datum":0},"text":{"value":"FRONT PAGE APPLICATION"}}},
  {"mark":{"type":"text","dy":64},"encoding":{"x":{"datum":0},"y":{"datum":0},"text":{"value":"V"}}},
  {"mark":{"type":"text","dx":8,"dy":67.5,"fontSize":11},"encoding":{"x":{"datum":0},"y":{"datum":0},"text":{"value":"IN"}}},
  {"mark":{"type":"text","dx":20,"dy":64},"encoding":{"x":{"datum":0},"y":{"datum":0},"text":{"value":"= 12V, V"}}},
  {"mark":{"type":"text","dx":65.5,"dy":67.5,"fontSize":11},"encoding":{"x":{"datum":0},"y":{"datum":0},"text":{"value":"OUT"}}},
  {"mark":{"type":"text","dx":86,"dy":64},"encoding":{"x":{"datum":0},"y":{"datum":0},"text":{"value":"= 48V, I"}}},
  {"mark":{"type":"text","dx":127,"dy":67.5,"fontSize":11},"encoding":{"x":{"datum":0},"y":{"datum":0},"text":{"value":"LOAD"}}},
  {"mark":{"type":"text","dx":153,"dy":64},"encoding":{"x":{"datum":0},"y":{"datum":0},"text":{"value":"= 135mA"}}}
 ]},
 {"width":275,"height":216,"view":{"stroke":"#000","strokeWidth":2.5},"data":{"name":"one"},"layer":[
  {"mark":{"type":"rect","opacity":0},"encoding":{"x":{"value":-75},"x2":{"value":281},"y":{"value":-89},"y2":{"value":297}}},
  {"data":{"name":"tx"},"mark":{"type":"rule","color":"#c9c9c9","strokeWidth":1},"encoding":{"x":{"field":"v","type":"quantitative"},"y":{"datum":3.92},"y2":{"datum":4.08}}},
  {"data":{"name":"ty"},"mark":{"type":"rule","color":"#c9c9c9","strokeWidth":1},"encoding":{"y":{"field":"v","type":"quantitative"},"x":{"datum":4.92},"x2":{"datum":5.08}}},
  {"data":{"name":"w2i"},"mark":{"type":"line","color":"#3f60b5","strokeWidth":1.6},"encoding":{"x":{"field":"x","type":"quantitative","scale":{"domain":[0,10],"nice":false,"zero":false},"axis":{"values":[1,2,3,4,5,6,7,8,9],"tickCount":50,"labels":false,"title":null,"grid":true,"gridColor":"#c9c9c9"}},"y":{"field":"y","type":"quantitative","scale":{"domain":[0,8],"nice":false,"zero":false},"axis":{"values":[1,2,3,4,5,6,7],"tickCount":50,"labels":false,"title":null,"grid":true,"gridColor":"#c9c9c9"}}}},
  {"data":{"name":"w2v"},"mark":{"type":"line","color":"#a8143f","strokeWidth":1.8},"encoding":{"x":{"field":"x","type":"quantitative"},"y":{"field":"y","type":"quantitative"}}},
  {"mark":{"type":"text","dx":1,"dy":-40,"fontSize":20,"fontWeight":"bold","color":"#111"},"encoding":{"x":{"datum":0},"y":{"datum":8},"text":{"value":"Switching Waveforms"}}},
  {"mark":{"type":"text","dx":1,"dy":-16,"fontSize":20,"fontWeight":"bold","color":"#111"},"encoding":{"x":{"datum":0},"y":{"datum":8},"text":{"value":"(in DCM/Light Burst Mode)"}}},
  {"mark":{"type":"text","align":"right","dx":-12.2,"dy":67.5,"fontSize":14.5},"encoding":{"x":{"datum":0},"y":{"datum":8},"text":{"value":"I"}}},
  {"mark":{"type":"text","align":"right","dx":-7,"dy":71,"fontSize":11.5},"encoding":{"x":{"datum":0},"y":{"datum":8},"text":{"value":"L"}}},
  {"mark":{"type":"text","align":"right","dx":-7,"dy":85,"fontSize":14.5},"encoding":{"x":{"datum":0},"y":{"datum":8},"text":{"value":"500mA/DIV"}}},
  {"mark":{"type":"text","align":"right","dx":-21.2,"dy":143.5,"fontSize":14.5},"encoding":{"x":{"datum":0},"y":{"datum":8},"text":{"value":"V"}}},
  {"mark":{"type":"text","align":"right","dx":-7,"dy":147,"fontSize":11.5},"encoding":{"x":{"datum":0},"y":{"datum":8},"text":{"value":"SW"}}},
  {"mark":{"type":"text","align":"right","dx":-7,"dy":162.5,"fontSize":14.5},"encoding":{"x":{"datum":0},"y":{"datum":8},"text":{"value":"20V/DIV"}}},
  {"mark":{"type":"text","align":"center","dy":23,"fontSize":14.5},"encoding":{"x":{"datum":5},"y":{"datum":0},"text":{"value":"1µs/DIV"}}},
  {"mark":{"type":"text","align":"right","dy":11,"fontSize":7.5},"encoding":{"x":{"datum":10},"y":{"datum":0},"text":{"value":"8330 G14"}}},
  {"mark":{"type":"text","dx":-1,"dy":47.5},"encoding":{"x":{"datum":0},"y":{"datum":0},"text":{"value":"FRONT PAGE APPLICATION"}}},
  {"mark":{"type":"text","dx":-1,"dy":66},"encoding":{"x":{"datum":0},"y":{"datum":0},"text":{"value":"V"}}},
  {"mark":{"type":"text","dx":7,"dy":69.5,"fontSize":11},"encoding":{"x":{"datum":0},"y":{"datum":0},"text":{"value":"IN"}}},
  {"mark":{"type":"text","dx":19,"dy":66},"encoding":{"x":{"datum":0},"y":{"datum":0},"text":{"value":"= 12V, V"}}},
  {"mark":{"type":"text","dx":64.5,"dy":69.5,"fontSize":11},"encoding":{"x":{"datum":0},"y":{"datum":0},"text":{"value":"OUT"}}},
  {"mark":{"type":"text","dx":85,"dy":66},"encoding":{"x":{"datum":0},"y":{"datum":0},"text":{"value":"= 48V, I"}}},
  {"mark":{"type":"text","dx":126,"dy":69.5,"fontSize":11},"encoding":{"x":{"datum":0},"y":{"datum":0},"text":{"value":"LOAD"}}},
  {"mark":{"type":"text","dx":152,"dy":66},"encoding":{"x":{"datum":0},"y":{"datum":0},"text":{"value":"= 20mA"}}}
 ]},
 {"width":276,"height":216,"view":{"stroke":"#000","strokeWidth":2.5},"data":{"name":"one"},"layer":[
  {"mark":{"type":"rect","opacity":0},"encoding":{"x":{"value":-80},"x2":{"value":383},"y":{"value":-89},"y2":{"value":297}}},
  {"data":{"name":"tx"},"mark":{"type":"rule","color":"#c9c9c9","strokeWidth":1},"encoding":{"x":{"field":"v","type":"quantitative"},"y":{"datum":3.92},"y2":{"datum":4.08}}},
  {"data":{"name":"ty"},"mark":{"type":"rule","color":"#c9c9c9","strokeWidth":1},"encoding":{"y":{"field":"v","type":"quantitative"},"x":{"datum":4.92},"x2":{"datum":5.08}}},
  {"data":{"name":"w3i"},"mark":{"type":"line","color":"#3f60b5","strokeWidth":1.4},"encoding":{"x":{"field":"x","type":"quantitative","scale":{"domain":[0,10],"nice":false,"zero":false},"axis":{"values":[1,2,3,4,5,6,7,8,9],"tickCount":50,"labels":false,"title":null,"grid":true,"gridColor":"#c9c9c9"}},"y":{"field":"y","type":"quantitative","scale":{"domain":[0,8],"nice":false,"zero":false},"axis":{"values":[1,2,3,4,5,6,7],"tickCount":50,"labels":false,"title":null,"grid":true,"gridColor":"#c9c9c9"}}}},
  {"data":{"name":"w3v"},"mark":{"type":"line","color":"#a8143f","strokeWidth":1.6},"encoding":{"x":{"field":"x","type":"quantitative"},"y":{"field":"y","type":"quantitative"}}},
  {"mark":{"type":"text","dx":1,"dy":-40,"fontSize":20,"fontWeight":"bold","color":"#111"},"encoding":{"x":{"datum":0},"y":{"datum":8},"text":{"value":"Switching Waveforms"}}},
  {"mark":{"type":"text","dx":1,"dy":-16,"fontSize":20,"fontWeight":"bold","color":"#111"},"encoding":{"x":{"datum":0},"y":{"datum":8},"text":{"value":"(in Deep Burst Mode)"}}},
  {"mark":{"type":"text","align":"right","dx":-13.2,"dy":69,"fontSize":14.5},"encoding":{"x":{"datum":0},"y":{"datum":8},"text":{"value":"I"}}},
  {"mark":{"type":"text","align":"right","dx":-8,"dy":72.5,"fontSize":11.5},"encoding":{"x":{"datum":0},"y":{"datum":8},"text":{"value":"L"}}},
  {"mark":{"type":"text","align":"right","dx":-8,"dy":87,"fontSize":14.5},"encoding":{"x":{"datum":0},"y":{"datum":8},"text":{"value":"500mA/DIV"}}},
  {"mark":{"type":"text","align":"right","dx":-22.2,"dy":171.5,"fontSize":14.5},"encoding":{"x":{"datum":0},"y":{"datum":8},"text":{"value":"V"}}},
  {"mark":{"type":"text","align":"right","dx":-8,"dy":175,"fontSize":11.5},"encoding":{"x":{"datum":0},"y":{"datum":8},"text":{"value":"SW"}}},
  {"mark":{"type":"text","align":"right","dx":-8,"dy":189,"fontSize":14.5},"encoding":{"x":{"datum":0},"y":{"datum":8},"text":{"value":"20V/DIV"}}},
  {"mark":{"type":"text","align":"center","dy":23,"fontSize":14.5},"encoding":{"x":{"datum":5},"y":{"datum":0},"text":{"value":"1µs/DIV"}}},
  {"mark":{"type":"text","align":"right","dy":11,"fontSize":7.5},"encoding":{"x":{"datum":10},"y":{"datum":0},"text":{"value":"8330 G15"}}},
  {"mark":{"type":"text","dx":-1.5,"dy":47},"encoding":{"x":{"datum":0},"y":{"datum":0},"text":{"value":"FRONT PAGE APPLICATION"}}},
  {"mark":{"type":"text","dx":-1.5,"dy":66.5},"encoding":{"x":{"datum":0},"y":{"datum":0},"text":{"value":"V"}}},
  {"mark":{"type":"text","dx":6.5,"dy":70,"fontSize":11},"encoding":{"x":{"datum":0},"y":{"datum":0},"text":{"value":"IN"}}},
  {"mark":{"type":"text","dx":18.5,"dy":66.5},"encoding":{"x":{"datum":0},"y":{"datum":0},"text":{"value":"= 12V, V"}}},
  {"mark":{"type":"text","dx":64,"dy":70,"fontSize":11},"encoding":{"x":{"datum":0},"y":{"datum":0},"text":{"value":"OUT"}}},
  {"mark":{"type":"text","dx":84.5,"dy":66.5},"encoding":{"x":{"datum":0},"y":{"datum":0},"text":{"value":"= 48V, I"}}},
  {"mark":{"type":"text","dx":125.5,"dy":70,"fontSize":11},"encoding":{"x":{"datum":0},"y":{"datum":0},"text":{"value":"LOAD"}}},
  {"mark":{"type":"text","dx":151.5,"dy":66.5},"encoding":{"x":{"datum":0},"y":{"datum":0},"text":{"value":"= 2mA"}}}
 ]}
]},
{"spacing":0,"hconcat":[
 {"width":1,"height":1,"data":{"name":"one"},"mark":{"type":"rect","opacity":0},"encoding":{"x":{"value":0},"x2":{"value":1},"y":{"value":0},"y2":{"value":1}}},
 {"width":275,"height":216,"view":{"stroke":"#000","strokeWidth":2.5},"data":{"name":"one"},"layer":[
  {"mark":{"type":"rect","opacity":0},"encoding":{"x":{"value":-268},"x2":{"value":340},"y":{"value":-128},"y2":{"value":259}}},
  {"data":{"name":"tx"},"mark":{"type":"rule","color":"#c9c9c9","strokeWidth":1},"encoding":{"x":{"field":"v","type":"quantitative"},"y":{"datum":3.92},"y2":{"datum":4.08}}},
  {"data":{"name":"ty"},"mark":{"type":"rule","color":"#c9c9c9","strokeWidth":1},"encoding":{"y":{"field":"v","type":"quantitative"},"x":{"datum":4.92},"x2":{"datum":5.08}}},
  {"mark":{"type":"rect","color":"white"},"encoding":{"x":{"datum":0.05},"x2":{"datum":6.1},"y":{"datum":7.04},"y2":{"datum":7.95}}},
  {"mark":{"type":"rect","color":"white"},"encoding":{"x":{"datum":0.6},"x2":{"datum":3.4},"y":{"datum":2.73},"y2":{"datum":4.37}}},
  {"data":{"name":"t1i"},"mark":{"type":"line","color":"#3f60b5","strokeWidth":2.6},"encoding":{"x":{"field":"x","type":"quantitative","scale":{"domain":[0,10],"nice":false,"zero":false},"axis":{"values":[1,2,3,4,5,6,7,8,9],"tickCount":50,"labels":false,"title":null,"grid":true,"gridColor":"#c9c9c9"}},"y":{"field":"y","type":"quantitative","scale":{"domain":[0,8],"nice":false,"zero":false},"axis":{"values":[1,2,3,4,5,6,7],"tickCount":50,"labels":false,"title":null,"grid":true,"gridColor":"#c9c9c9"}}}},
  {"data":{"name":"t1v"},"mark":{"type":"line","color":"#a8143f","strokeWidth":2},"encoding":{"x":{"field":"x","type":"quantitative"},"y":{"field":"y","type":"quantitative"}}},
  {"mark":{"type":"text","dx":2.7,"dy":-64.5,"fontSize":20,"fontWeight":"bold","color":"#111"},"encoding":{"x":{"datum":0},"y":{"datum":8},"text":{"value":"V"}}},
  {"mark":{"type":"text","dx":14.5,"dy":-61.5,"fontSize":13.5,"fontWeight":"bold","color":"#111"},"encoding":{"x":{"datum":0},"y":{"datum":8},"text":{"value":"OUT"}}},
  {"mark":{"type":"text","dx":42,"dy":-64.5,"fontSize":20,"fontWeight":"bold","color":"#111"},"encoding":{"x":{"datum":0},"y":{"datum":8},"text":{"value":"Transient Response: Load"}}},
  {"mark":{"type":"text","dx":2.7,"dy":-41,"fontSize":20,"fontWeight":"bold","color":"#111"},"encoding":{"x":{"datum":0},"y":{"datum":8},"text":{"value":"Current Transients from 67.5mA to"}}},
  {"mark":{"type":"text","dx":2.7,"dy":-17.7,"fontSize":20,"fontWeight":"bold","color":"#111"},"encoding":{"x":{"datum":0},"y":{"datum":8},"text":{"value":"135mA to 67.5mA"}}},
  {"mark":{"type":"text","dx":6.7,"dy":20.7},"encoding":{"x":{"datum":0},"y":{"datum":8},"text":{"value":"FRONT PAGE APPLICATION"}}},
  {"mark":{"type":"text","align":"right","dx":-13.5,"dy":43.5,"fontSize":14.5},"encoding":{"x":{"datum":0},"y":{"datum":8},"text":{"value":"I"}}},
  {"mark":{"type":"text","align":"right","dx":-8.3,"dy":46.5,"fontSize":11.5},"encoding":{"x":{"datum":0},"y":{"datum":8},"text":{"value":"L"}}},
  {"mark":{"type":"text","align":"right","dx":-8.3,"dy":61.5,"fontSize":14.5},"encoding":{"x":{"datum":0},"y":{"datum":8},"text":{"value":"100mA/DIV"}}},
  {"mark":{"type":"text","align":"right","dx":-26.5,"dy":174.5,"fontSize":14.5},"encoding":{"x":{"datum":0},"y":{"datum":8},"text":{"value":"V"}}},
  {"mark":{"type":"text","align":"right","dx":-8.3,"dy":178,"fontSize":11.5},"encoding":{"x":{"datum":0},"y":{"datum":8},"text":{"value":"OUT"}}},
  {"mark":{"type":"text","align":"right","dx":-8.3,"dy":192.3,"fontSize":14.5},"encoding":{"x":{"datum":0},"y":{"datum":8},"text":{"value":"500mV/DIV"}}},
  {"mark":{"type":"text","dx":21.7,"dy":115.7},"encoding":{"x":{"datum":0},"y":{"datum":8},"text":{"value":"V"}}},
  {"mark":{"type":"text","dx":29.4,"dy":119.2,"fontSize":11},"encoding":{"x":{"datum":0},"y":{"datum":8},"text":{"value":"IN"}}},
  {"mark":{"type":"text","dx":42,"dy":115.7},"encoding":{"x":{"datum":0},"y":{"datum":8},"text":{"value":"= 12V"}}},
  {"mark":{"type":"text","dx":21.7,"dy":137.3},"encoding":{"x":{"datum":0},"y":{"datum":8},"text":{"value":"V"}}},
  {"mark":{"type":"text","dx":29.4,"dy":140.8,"fontSize":11},"encoding":{"x":{"datum":0},"y":{"datum":8},"text":{"value":"OUT"}}},
  {"mark":{"type":"text","dx":50.5,"dy":137.3},"encoding":{"x":{"datum":0},"y":{"datum":8},"text":{"value":"= 48V"}}},
  {"mark":{"type":"text","align":"center","dy":21.3,"fontSize":14.5},"encoding":{"x":{"datum":5},"y":{"datum":0},"text":{"value":"100µs/DIV"}}},
  {"mark":{"type":"text","align":"right","dy":9.7,"fontSize":7.5},"encoding":{"x":{"datum":10},"y":{"datum":0},"text":{"value":"8330 G16"}}}
 ]},
 {"width":274,"height":216,"view":{"stroke":"#000","strokeWidth":2.5},"data":{"name":"one"},"layer":[
  {"mark":{"type":"rect","opacity":0},"encoding":{"x":{"value":-132},"x2":{"value":529},"y":{"value":-128},"y2":{"value":259}}},
  {"data":{"name":"tx"},"mark":{"type":"rule","color":"#c9c9c9","strokeWidth":1},"encoding":{"x":{"field":"v","type":"quantitative"},"y":{"datum":3.92},"y2":{"datum":4.08}}},
  {"data":{"name":"ty"},"mark":{"type":"rule","color":"#c9c9c9","strokeWidth":1},"encoding":{"y":{"field":"v","type":"quantitative"},"x":{"datum":4.92},"x2":{"datum":5.08}}},
  {"mark":{"type":"rect","color":"white"},"encoding":{"x":{"datum":0.05},"x2":{"datum":6.1},"y":{"datum":7.04},"y2":{"datum":7.95}}},
  {"mark":{"type":"rect","color":"white"},"encoding":{"x":{"datum":0.64},"x2":{"datum":3.5},"y":{"datum":2.73},"y2":{"datum":4.37}}},
  {"data":{"name":"t2i"},"mark":{"type":"line","color":"#3f60b5","strokeWidth":2.6},"encoding":{"x":{"field":"x","type":"quantitative","scale":{"domain":[0,10],"nice":false,"zero":false},"axis":{"values":[1,2,3,4,5,6,7,8,9],"tickCount":50,"labels":false,"title":null,"grid":true,"gridColor":"#c9c9c9"}},"y":{"field":"y","type":"quantitative","scale":{"domain":[0,8],"nice":false,"zero":false},"axis":{"values":[1,2,3,4,5,6,7],"tickCount":50,"labels":false,"title":null,"grid":true,"gridColor":"#c9c9c9"}}}},
  {"data":{"name":"t2v"},"mark":{"type":"line","color":"#a8143f","strokeWidth":2.2},"encoding":{"x":{"field":"x","type":"quantitative"},"y":{"field":"y","type":"quantitative"}}},
  {"mark":{"type":"text","dx":2.6,"dy":-64.5,"fontSize":20,"fontWeight":"bold","color":"#111"},"encoding":{"x":{"datum":0},"y":{"datum":8},"text":{"value":"V"}}},
  {"mark":{"type":"text","dx":14.4,"dy":-61.5,"fontSize":13.5,"fontWeight":"bold","color":"#111"},"encoding":{"x":{"datum":0},"y":{"datum":8},"text":{"value":"OUT"}}},
  {"mark":{"type":"text","dx":41.9,"dy":-64.5,"fontSize":20,"fontWeight":"bold","color":"#111"},"encoding":{"x":{"datum":0},"y":{"datum":8},"text":{"value":"Transient Response: Load"}}},
  {"mark":{"type":"text","dx":2.6,"dy":-41,"fontSize":20,"fontWeight":"bold","color":"#111"},"encoding":{"x":{"datum":0},"y":{"datum":8},"text":{"value":"Current Transients from 5mA to"}}},
  {"mark":{"type":"text","dx":2.6,"dy":-17.7,"fontSize":20,"fontWeight":"bold","color":"#111"},"encoding":{"x":{"datum":0},"y":{"datum":8},"text":{"value":"135mA to 5mA"}}},
  {"mark":{"type":"text","dx":6,"dy":20.7},"encoding":{"x":{"datum":0},"y":{"datum":8},"text":{"value":"FRONT PAGE APPLICATION"}}},
  {"mark":{"type":"text","align":"right","dx":-14.9,"dy":48,"fontSize":14.5},"encoding":{"x":{"datum":0},"y":{"datum":8},"text":{"value":"I"}}},
  {"mark":{"type":"text","align":"right","dx":-9.7,"dy":50.5,"fontSize":11.5},"encoding":{"x":{"datum":0},"y":{"datum":8},"text":{"value":"L"}}},
  {"mark":{"type":"text","align":"right","dx":-9.7,"dy":65,"fontSize":14.5},"encoding":{"x":{"datum":0},"y":{"datum":8},"text":{"value":"100mA/DIV"}}},
  {"mark":{"type":"text","align":"right","dx":-27.9,"dy":184.5,"fontSize":14.5},"encoding":{"x":{"datum":0},"y":{"datum":8},"text":{"value":"V"}}},
  {"mark":{"type":"text","align":"right","dx":-9.7,"dy":188,"fontSize":11.5},"encoding":{"x":{"datum":0},"y":{"datum":8},"text":{"value":"OUT"}}},
  {"mark":{"type":"text","align":"right","dx":-9.7,"dy":202.3,"fontSize":14.5},"encoding":{"x":{"datum":0},"y":{"datum":8},"text":{"value":"500mV/DIV"}}},
  {"mark":{"type":"text","dx":21.7,"dy":115.7},"encoding":{"x":{"datum":0},"y":{"datum":8},"text":{"value":"V"}}},
  {"mark":{"type":"text","dx":29.4,"dy":119.2,"fontSize":11},"encoding":{"x":{"datum":0},"y":{"datum":8},"text":{"value":"IN"}}},
  {"mark":{"type":"text","dx":42,"dy":115.7},"encoding":{"x":{"datum":0},"y":{"datum":8},"text":{"value":"= 12V"}}},
  {"mark":{"type":"text","dx":21.7,"dy":137.3},"encoding":{"x":{"datum":0},"y":{"datum":8},"text":{"value":"V"}}},
  {"mark":{"type":"text","dx":29.4,"dy":140.8,"fontSize":11},"encoding":{"x":{"datum":0},"y":{"datum":8},"text":{"value":"OUT"}}},
  {"mark":{"type":"text","dx":50.5,"dy":137.3},"encoding":{"x":{"datum":0},"y":{"datum":8},"text":{"value":"= 48V"}}},
  {"mark":{"type":"text","align":"center","dy":21.3,"fontSize":14.5},"encoding":{"x":{"datum":5},"y":{"datum":0},"text":{"value":"100µs/DIV"}}},
  {"mark":{"type":"text","align":"right","dy":9.7,"fontSize":7.5},"encoding":{"x":{"datum":10},"y":{"datum":0},"text":{"value":"8330 G17"}}}
 ]}
]},
{"width":1275,"height":226,"data":{"name":"one"},"layer":[
 {"mark":{"type":"rect","opacity":0},"encoding":{"x":{"value":0},"x2":{"value":1275},"y":{"value":0},"y2":{"value":226}}},
 {"mark":{"type":"text","align":"right","fontSize":12},"encoding":{"x":{"value":1180},"y":{"value":119.6},"text":{"value":"Rev. B"}}},
 {"mark":{"type":"rule","strokeWidth":6,"color":"#000"},"encoding":{"x":{"value":94},"x2":{"value":1180},"y":{"value":129.6}}},
 {"mark":{"type":"text","align":"right","fontSize":58,"fontWeight":300},"encoding":{"x":{"value":1180},"y":{"value":184.6},"text":{"value":"5"}}},
 {"mark":{"type":"text","align":"right","fontSize":16.5},"encoding":{"x":{"value":648},"y":{"value":188.6},"text":{"value":"For more information"}}},
 {"mark":{"type":"text","fontSize":16.5,"color":"#2323ff"},"encoding":{"x":{"value":653},"y":{"value":188.6},"text":{"value":"www.analog.com"}}}
]}
],
"config": {
 "view": {"stroke": null},
 "font": "Roboto Condensed, Liberation Sans, sans-serif",
 "concat": {"spacing": 0},
 "axis": {"labelFont": "Roboto Condensed, Liberation Sans, sans-serif", "titleFont": "Roboto Condensed, Liberation Sans, sans-serif", "labelFontSize": 14, "titleFontSize": 15, "titleFontWeight": "normal", "labelColor": "#1a1a1a", "titleColor": "#1a1a1a", "domain": false, "ticks": false, "tickSize": 0, "gridColor": "#1a1a1a", "gridOpacity": 1, "gridWidth": 1, "labelFlush": false, "labelOverlap": false},
 "text": {"font": "Roboto Condensed, Liberation Sans, sans-serif", "fontSize": 14.5, "color": "#1a1a1a", "baseline": "alphabetic", "align": "left"},
 "line": {"strokeJoin": "round"}
}
}
